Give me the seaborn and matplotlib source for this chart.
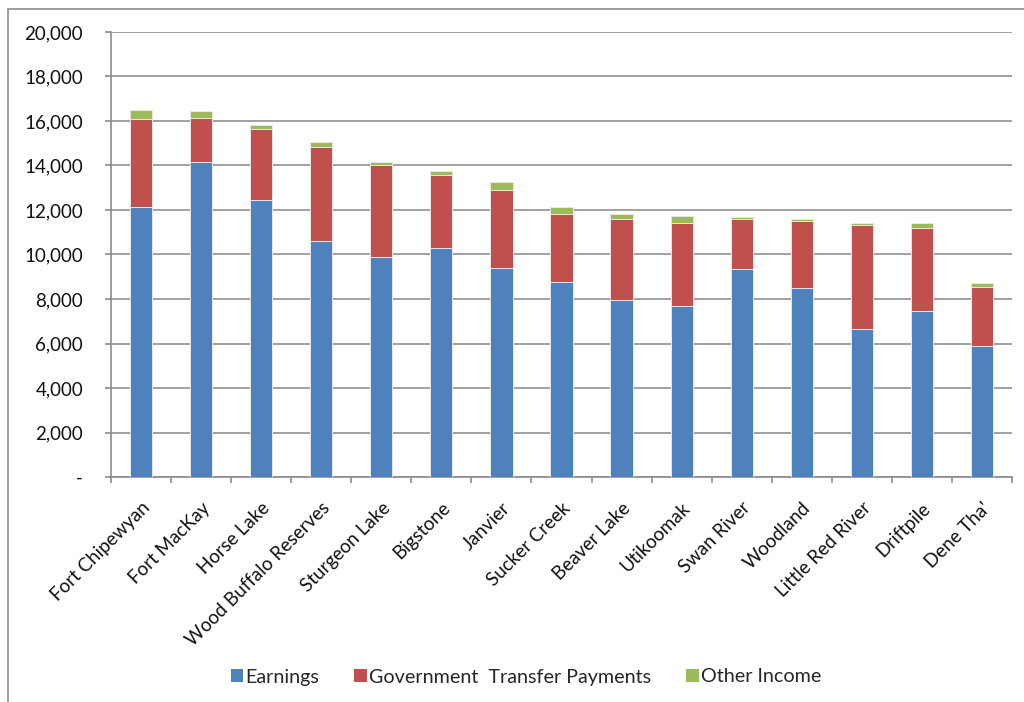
import matplotlib
matplotlib.use("Agg")
import matplotlib.pyplot as plt
from matplotlib.patches import Patch, Rectangle
from matplotlib.ticker import FuncFormatter, MultipleLocator
import numpy as np
import pandas as pd
import seaborn as sns

# Average income per person by First Nation, split by source
communities = [
    "Fort Chipewyan", "Fort MacKay", "Horse Lake", "Wood Buffalo Reserves",
    "Sturgeon Lake", "Bigstone", "Janvier", "Sucker Creek", "Beaver Lake",
    "Utikoomak", "Swan River", "Woodland", "Little Red River", "Driftpile",
    "Dene Tha'",
]
earnings = [12150, 14160, 12430, 10590, 9890, 10310, 9410, 8780, 7950,
            7690, 9350, 8510, 6640, 7460, 5870]
transfers = [3930, 1990, 3230, 4260, 4120, 3280, 3500, 3020, 3650,
             3710, 2260, 3010, 4700, 3730, 2680]
other = [420, 280, 160, 210, 150, 165, 345, 350, 220,
         340, 75, 90, 75, 210, 165]

series_names = ["Earnings", "Government  Transfer Payments", "Other Income"]
colors = ["#4F81BD", "#C0504D", "#9BBB59"]

sns.set_theme(style="white")
plt.rcParams["font.family"] = ["Lato", "DejaVu Sans"]

df = pd.DataFrame({
    "community": communities,
    "earnings": earnings,
    "transfers": transfers,
    "other": other,
})
df["lvl1"] = df["earnings"]
df["lvl2"] = df["earnings"] + df["transfers"]
df["lvl3"] = df["lvl2"] + df["other"]

fig = plt.figure(figsize=(10.24, 7.02), dpi=100)
ax = fig.add_axes([111 / 1024, 1 - 477 / 702, (1012 - 111) / 1024, (477 - 32) / 702])

# Stacked bars: draw cumulative totals from the top layer down
for col, color in zip(["lvl3", "lvl2", "lvl1"], colors[::-1]):
    sns.barplot(data=df, x="community", y=col, color=color, width=0.37,
                edgecolor="#e8e8e8", linewidth=0.7, ax=ax, saturation=1,
                zorder=3)

ax.set_ylim(0, 20000)
ax.set_xlim(-0.5, len(communities) - 0.5)
ax.yaxis.set_major_locator(MultipleLocator(2000))
ax.yaxis.set_major_formatter(FuncFormatter(lambda v, p: "-" if v == 0 else f"{int(v):,}"))
ax.set_xlabel("")
ax.set_ylabel("")

ax.grid(axis="y", color="#9a9a9a", linewidth=1.3, zorder=0)
ax.set_axisbelow(True)
for s in ["top", "right"]:
    ax.spines[s].set_visible(False)
for s in ["left", "bottom"]:
    ax.spines[s].set_color("#8c8c8c")
    ax.spines[s].set_linewidth(1.2)

ax.tick_params(axis="y", which="major", left=True, length=4.5, width=1.2,
               color="#8c8c8c", labelsize=13.5, pad=15.5, labelcolor="#111111")
# Category ticks sit between the bars
ax.set_xticks(np.arange(len(communities)))
ax.set_xticklabels(communities, rotation=45, ha="right", rotation_mode="anchor",
                   fontsize=13.5, color="#111111")
ax.tick_params(axis="x", which="major", bottom=False, pad=10)
ax.set_xticks(np.arange(-0.5, len(communities)), minor=True)
ax.tick_params(axis="x", which="minor", bottom=True, length=4.5, width=1.2,
               color="#8c8c8c")

handles = [Patch(facecolor=c, edgecolor="none") for c in colors]
fig.legend(handles, series_names, loc="center", bbox_to_anchor=(526 / 1024, 1 - 677 / 702),
           ncol=3, frameon=False, fontsize=14.2, handlelength=0.65, handleheight=0.65,
           handletextpad=0.12, columnspacing=1.75)

# Chart area border
fig.patches.append(Rectangle((8 / 1024, -0.1), 1.2, 1 - 9 / 702 + 0.1,
                             transform=fig.transFigure, fill=False,
                             edgecolor="#8c8c8c", linewidth=1.2))

fig.savefig("out.png", dpi=100)
